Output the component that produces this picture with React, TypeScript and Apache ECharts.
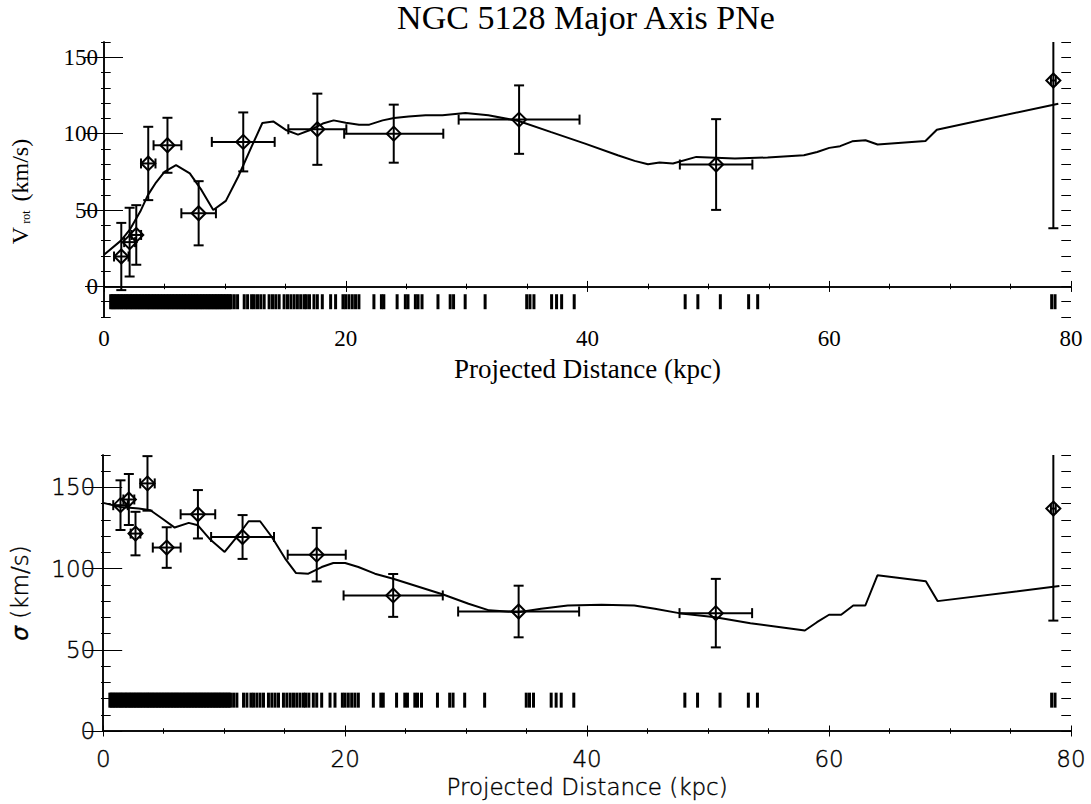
import React, { useEffect, useRef } from "react";
import * as echarts from "echarts";

// ---------------- data ----------------
const pnX = [1.43, 2.12, 2.67, 3.66, 5.25, 7.83, 11.52, 17.65, 23.97, 34.34, 50.64, 78.54];
const pnXErr = [0.6, 0.45, 0.4, 0.6, 1.15, 1.43, 2.6, 2.4, 4.1, 5.0, 3.0, 0.2];
const vrotVal = [19.6, 29, 33.7, 80.5, 92.4, 47.9, 94.6, 102.9, 100, 109.2, 79.8, 134.8];
const vrotErr = [22, 22.5, 19.5, 24, 18, 21, 19.3, 23.3, 19, 22.4, 29.7, 96.7];
const sigVal = [139.1, 142.6, 121.6, 152.5, 113, 133.5, 119.5, 108.6, 83.5, 73.6, 72.6, 137];
const sigErr = [15.3, 15.7, 13.4, 16.8, 12.5, 14.9, 13.5, 16.5, 13.2, 15.9, 21.1, 69];

const vrotModel: number[][] = [
  [0, 20.7], [1.4, 30], [2.12, 37], [3.0, 49], [3.63, 59.8], [4.3, 68], [5.0, 75], [5.96, 79.4],
  [7.1, 74], [8.07, 63], [9.04, 50], [10.08, 56], [11.1, 71.8], [12.2, 91.3], [13.1, 107],
  [14.0, 108], [15.1, 102.2], [16.05, 99.4], [17.0, 102.2], [18.1, 106.6], [19.0, 108.7],
  [20.0, 107.2], [21.1, 105.9], [21.95, 105.9], [23.05, 108.7], [24.0, 110.2], [25.2, 111.3],
  [26.6, 112], [28.0, 112], [29.9, 113.5], [31.8, 112], [34.3, 108.3], [37.0, 101], [39.8, 93.5],
  [42.5, 85.9], [43.9, 82.2], [45.0, 80], [45.96, 81.2], [47.07, 80.5], [49.0, 84.8], [52.2, 83.7],
  [54.9, 84.4], [57.9, 85.9], [59.0, 88], [60.0, 90.7], [60.9, 91.8], [61.9, 95], [63.0, 95.7],
  [64.0, 92.9], [67.96, 95.2], [68.9, 102.6], [78.95, 119.6],
];

const sigModel: number[][] = [
  [0, 140.5], [1.43, 138], [2.94, 137], [3.9, 136], [4.87, 130.9], [5.91, 125.3], [7.07, 128.2],
  [7.83, 126.7], [8.85, 117.9], [10.04, 110.3], [11.05, 119.5], [12.02, 129.2], [12.97, 129.2],
  [13.94, 119.5], [15.04, 106.2], [15.94, 97.3], [16.96, 96.9], [18.06, 101], [19.02, 103.5],
  [20.0, 103.5], [21.09, 101], [22.46, 96.9], [23.97, 93.8], [28.1, 84.1], [30.2, 78.4],
  [31.9, 74.3], [34.3, 73.2], [36.2, 75.3], [38.4, 77.3], [41.2, 77.8], [43.9, 77.3], [45.6, 75.3],
  [47.6, 72.6], [50.6, 70.1], [53.5, 66.4], [56.3, 63.6], [58.0, 61.9], [59.0, 67.0], [60.0, 71.6],
  [61.0, 71.6], [62.0, 77.3], [63.0, 77.3], [64.0, 95.9], [68.0, 92.3], [68.97, 80], [79.04, 89.3],
];

// individual PN projected distances (rug marks)
const pnRug = [
  0.55, 0.66, 0.78, 0.9, 1.02, 1.15, 1.27, 1.4, 1.51, 1.63, 1.77, 1.88, 2.0, 2.13, 2.25, 2.36,
  2.5, 2.61, 2.74, 2.86, 2.98, 3.1, 3.22, 3.35, 3.47, 3.6, 3.71, 3.83, 3.96, 4.08, 4.2, 4.33,
  4.45, 4.57, 4.7, 4.82, 4.95, 5.07, 5.2, 5.32, 5.44, 5.57, 5.69, 5.81, 5.94, 6.06, 6.18, 6.31,
  6.43, 6.56, 6.68, 6.8, 6.93, 7.05, 7.17, 7.3, 7.42, 7.55, 7.67, 7.79, 7.92, 8.04, 8.16, 8.29,
  8.41, 8.54, 8.66, 8.78, 8.91, 9.03, 9.16, 9.28, 9.4, 9.53, 9.65, 9.77, 9.9, 10.02, 10.15,
  10.27, 10.4, 10.52, 10.78, 11.05, 11.6, 11.88, 12.21, 12.43, 12.7, 12.97, 13.25, 13.66, 13.94,
  14.21, 14.49, 14.9, 15.18, 15.46, 15.73, 16.0, 16.27, 16.55, 16.74, 17.0, 17.37, 17.65, 18.06,
  18.75, 19.16, 19.77, 19.99, 20.26, 20.54, 20.81, 21.09, 22.33, 22.95, 23.15, 24.25, 24.93,
  25.15, 25.76, 25.98, 26.31, 27.63, 28.64, 28.92, 29.88, 31.53, 34.97, 35.24, 35.57, 37.03,
  37.44, 37.86, 38.9, 48.08, 49.13, 50.99, 53.33, 54.08, 78.4, 78.68,
];

const yMajorTicks = [0, 50, 100, 150];
const rugLevelTop = -10;
const rugLevelBottom = 19;

// ---------------- helpers ----------------
const SERIF = "'Liberation Serif', 'Times New Roman', serif";
const SANS = "'DejaVu Sans', sans-serif";

function errRender(params: any, api: any) {
  const x = api.value(0);
  const y = api.value(1);
  const xe = api.value(2);
  const ye = api.value(3);
  const top = api.coord([x, y + ye]);
  const bot = api.coord([x, y - ye]);
  const l = api.coord([x - xe, y]);
  const r = api.coord([x + xe, y]);
  const cap = 5;
  const st = { stroke: "#000", lineWidth: 2, fill: "none" };
  const children: any[] = [
    { type: "line", shape: { x1: top[0], y1: top[1], x2: bot[0], y2: bot[1] }, style: st },
    { type: "line", shape: { x1: top[0] - cap, y1: top[1], x2: top[0] + cap, y2: top[1] }, style: st },
    { type: "line", shape: { x1: bot[0] - cap, y1: bot[1], x2: bot[0] + cap, y2: bot[1] }, style: st },
  ];
  if (xe > 0) {
    children.push(
      { type: "line", shape: { x1: l[0], y1: l[1], x2: r[0], y2: r[1] }, style: st },
      { type: "line", shape: { x1: l[0], y1: l[1] - cap, x2: l[0], y2: l[1] + cap }, style: st },
      { type: "line", shape: { x1: r[0], y1: r[1] - cap, x2: r[0], y2: r[1] + cap }, style: st }
    );
  }
  return { type: "group", children };
}

function mainX(gridIndex: number, position: string, labels: boolean, font: any, nameFont: any, name: string, nameGap: number, labelMargin: number) {
  return {
    type: "value",
    gridIndex,
    position,
    min: 0,
    max: 80,
    interval: 20,
    axisLine: { show: true, lineStyle: { color: "#000", width: 1.5 } },
    axisTick: { show: true, inside: true, length: 5.5, lineStyle: { color: "#000", width: 1 } },
    minorTick: { show: true, splitNumber: 4, length: 2.75, lineStyle: { color: "#000", width: 1 } },
    splitLine: { show: false },
    minorSplitLine: { show: false },
    axisLabel: labels
      ? { show: true, margin: labelMargin, color: "#000", ...font }
      : { show: false },
    name: labels ? name : "",
    nameLocation: "middle",
    nameGap,
    nameTextStyle: { color: "#000", ...nameFont },
  };
}

function majorY(gridIndex: number, position: string, min: number, max: number, labels: boolean, font: any, nameFont: any, name: any, nameGap: number, rich: any, margin: number, namePad: number[]) {
  return {
    type: "value",
    gridIndex,
    position,
    min,
    max,
    axisLine: { show: true, lineStyle: { color: "#000", width: 1.5 } },
    axisTick: { show: true, inside: true, length: 19, customValues: yMajorTicks, lineStyle: { color: "#000", width: 1 } },
    splitLine: { show: false },
    axisLabel: labels
      ? { show: true, customValues: yMajorTicks, margin, color: "#000", ...font }
      : { show: false },
    name: labels ? name : "",
    nameLocation: "middle",
    nameRotate: 90,
    nameGap,
    nameTextStyle: { color: "#000", ...nameFont, rich, padding: namePad },
  };
}

function minorY(gridIndex: number, position: string, min: number, max: number) {
  return {
    type: "value",
    gridIndex,
    position,
    min,
    max,
    interval: 10,
    axisLine: { show: false },
    axisTick: { show: true, inside: true, length: 9.7, lineStyle: { color: "#000", width: 1 } },
    splitLine: { show: false },
    axisLabel: { show: false },
  };
}

function hiddenX(gridIndex: number) {
  return { type: "value", gridIndex, min: 0, max: 80, show: false };
}

export default function App() {
  const ref = useRef<HTMLDivElement>(null);

  useEffect(() => {
    document.body.style.margin = "0";
    if (!ref.current) return;
    const chart = echarts.init(ref.current, undefined, { renderer: "svg" });

    const serifFont = { fontFamily: SERIF, fontSize: 23 };
    const serifName = { fontFamily: SERIF, fontSize: 27 };
    const serifY = { fontFamily: SERIF, fontSize: 24 };
    const sansFont = {
      fontFamily: SANS, fontSize: 23, fontWeight: 200,
      textBorderColor: "#000", textBorderWidth: 0.4,
    };

    const gridTop = { left: 101, top: 42, width: 970, height: 275 };
    const gridBot = { left: 101, top: 455, width: 970, height: 276 };

    const ptsV = pnX.map((x, i) => [x, vrotVal[i]]);
    const ptsS = pnX.map((x, i) => [x, sigVal[i]]);
    const errV = pnX.map((x, i) => [x, vrotVal[i], pnXErr[i], vrotErr[i]]);
    const errS = pnX.map((x, i) => [x, sigVal[i], pnXErr[i], sigErr[i]]);
    const rugTop = pnRug.map((x) => [x, rugLevelTop]);
    const rugBot = pnRug.map((x) => [x, rugLevelBottom]);

    const diamondStyle = { color: "rgba(0,0,0,0)", borderColor: "#000", borderWidth: 2, opacity: 1 };
    const rugStyle = { color: "#000", opacity: 1 };

    const option: any = {
      animation: false,
      backgroundColor: "#fff",
      graphic: [
        {
          type: "text",
          x: 586,
          y: 0,
          style: {
            text: "NGC 5128 Major Axis PNe",
            fill: "#000",
            fontFamily: SERIF,
            fontSize: 34,
            align: "center",
            verticalAlign: "top",
          },
        },
      ],
      grid: [
        { ...gridTop },
        { ...gridTop },
        { ...gridBot },
        { ...gridBot },
      ],
      xAxis: [
        mainX(0, "bottom", true, serifFont, serifName, "Projected Distance (kpc)", 38, 10),
        mainX(0, "top", false, serifFont, serifName, "", 0, 0),
        hiddenX(1),
        mainX(2, "bottom", true, sansFont, sansFont, "Projected Distance (kpc)", 44, 16),
        mainX(2, "top", false, sansFont, sansFont, "", 0, 0),
        hiddenX(3),
      ],
      yAxis: [
        majorY(0, "left", -20, 160, true, serifFont, serifY, "{v|V}{s|rot}{v| (km/s)}", 72,
          { v: { fontFamily: SERIF, fontSize: 24 }, s: { fontFamily: SERIF, fontSize: 12, padding: [12, 3, 0, 3] } }, 6, [0, 24, 0, 0]),
        majorY(0, "right", -20, 160, false, serifFont, serifY, "", 0, {}, 0, [0, 0, 0, 0]),
        minorY(1, "left", -20, 160),
        minorY(1, "right", -20, 160),
        majorY(2, "left", 0, 170, true, sansFont, sansFont, "{g|σ} (km/s)", 72,
          {
            g: {
              fontFamily: SANS, fontSize: 23, fontStyle: "italic", fontWeight: 200,
              textBorderColor: "#000", textBorderWidth: 0.4,
            },
          }, 8, [0, 0, 0, 0]),
        majorY(2, "right", 0, 170, false, sansFont, sansFont, "", 0, {}, 0, [0, 0, 0, 0]),
        minorY(3, "left", 0, 170),
        minorY(3, "right", 0, 170),
      ],
      series: [
        {
          type: "line", xAxisIndex: 0, yAxisIndex: 0, data: vrotModel, showSymbol: false,
          lineStyle: { color: "#000", width: 2 }, clip: true, z: 3,
        },
        {
          type: "custom", xAxisIndex: 0, yAxisIndex: 0, data: errV, renderItem: errRender, clip: true, z: 4,
        },
        {
          type: "scatter", xAxisIndex: 0, yAxisIndex: 0, data: ptsV, symbol: "diamond", symbolSize: 14,
          itemStyle: diamondStyle, z: 5,
        },
        {
          type: "scatter", xAxisIndex: 0, yAxisIndex: 0, data: rugTop, symbol: "rect", symbolSize: [3, 15],
          itemStyle: rugStyle, z: 2,
        },
        {
          type: "line", xAxisIndex: 3, yAxisIndex: 4, data: sigModel, showSymbol: false,
          lineStyle: { color: "#000", width: 2 }, clip: true, z: 3,
        },
        {
          type: "custom", xAxisIndex: 3, yAxisIndex: 4, data: errS, renderItem: errRender, clip: true, z: 4,
        },
        {
          type: "scatter", xAxisIndex: 3, yAxisIndex: 4, data: ptsS, symbol: "diamond", symbolSize: 14,
          itemStyle: diamondStyle, z: 5,
        },
        {
          type: "scatter", xAxisIndex: 3, yAxisIndex: 4, data: rugBot, symbol: "rect", symbolSize: [3, 15],
          itemStyle: rugStyle, z: 2,
        },
      ],
    };

    chart.setOption(option);
    return () => chart.dispose();
  }, []);

  return <div ref={ref} style={{ width: 1091, height: 804 }} />;
}
